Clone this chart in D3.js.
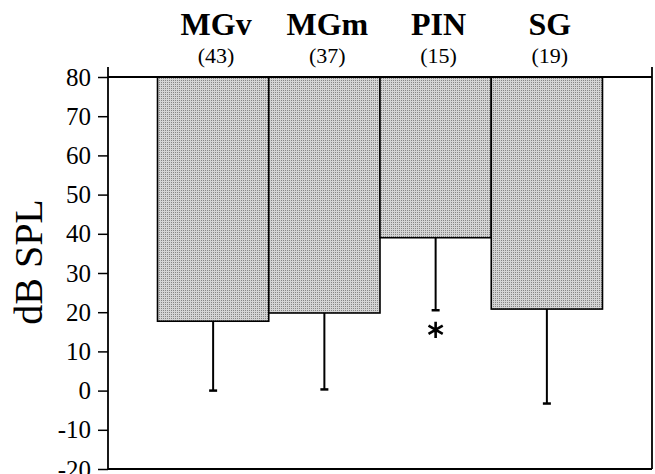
<!DOCTYPE html>
<html>
<head>
<meta charset="utf-8">
<script src="https://cdn.jsdelivr.net/npm/d3@7"></script>
<style>
  body { margin: 0; background: #fff; }
  svg text { font-family: "Liberation Serif", "Times New Roman", Times, serif !important; fill: #000; }
</style>
</head>
<body>
<script>
// Data
var regions = ['MGv', 'MGm', 'PIN', 'SG'];
var counts = ['(43)', '(37)', '(15)', '(19)'];
var thresholds = [17.7, 19.8, 39.0, 20.8];
var lowerErr = [0, 0.3, 20.5, -3.3];
var significant = [false, false, true, false];
var starValue = 15.5;
var yTicks = [-20, -10, 0, 10, 20, 30, 40, 50, 60, 70, 80];

// Graph dimensions
var W = 655, H = 474;
var margin = {top: 77, right: 3, bottom: 5, left: 108};
var width = W - margin.left - margin.right,
    height = H - margin.top - margin.bottom;

// Ranges
var x = d3.scaleBand().domain(regions).range([0, width]).paddingInner(0).paddingOuter(0.445);
var y = d3.scaleLinear().domain([-20, 80]).range([height, 0]);

var svg = d3.select('body').append('svg')
    .attr('width', W)
    .attr('height', H);

// Stipple fill
var pat = svg.append('defs').append('pattern')
    .attr('id', 'stipple')
    .attr('patternUnits', 'userSpaceOnUse')
    .attr('width', 2).attr('height', 2);
pat.append('rect').attr('width', 2).attr('height', 2).attr('fill', '#d4d4d4');
pat.append('rect').attr('x', 1).attr('y', 1).attr('width', 1).attr('height', 1).attr('fill', '#858585');

var chart = svg.append('g')
    .attr('transform', 'translate(' + margin.left + ',' + margin.top + ')');

// Bars hanging from the top
chart.selectAll('.bar')
    .data(regions)
    .enter().append('rect')
    .attr('class', 'bar')
    .attr('x', function(d) { return x(d); })
    .attr('y', y(80))
    .attr('width', x.bandwidth())
    .attr('height', function(d, i) { return y(thresholds[i]) - y(80); })
    .attr('fill', 'url(#stipple)')
    .attr('stroke', '#000')
    .attr('stroke-width', 1.6);

// Error bars
var err = chart.selectAll('.err')
    .data(regions)
    .enter().append('g')
    .attr('class', 'err')
    .attr('transform', function(d) { return 'translate(' + (x(d) + x.bandwidth() / 2) + ',0)'; });
err.append('line')
    .attr('y1', function(d, i) { return y(thresholds[i]); })
    .attr('y2', function(d, i) { return y(lowerErr[i]); })
    .attr('stroke', '#000').attr('stroke-width', 2);
err.append('line')
    .attr('x1', -4).attr('x2', 4)
    .attr('y1', function(d, i) { return y(lowerErr[i]); })
    .attr('y2', function(d, i) { return y(lowerErr[i]); })
    .attr('stroke', '#000').attr('stroke-width', 2.5);

// Significance star
chart.selectAll('.star')
    .data(regions.filter(function(d, i) { return significant[i]; }))
    .enter().append('path')
    .attr('class', 'star')
    .attr('transform', function(d) { return 'translate(' + (x(d) + x.bandwidth() / 2) + ',' + y(starValue) + ')'; })
    .attr('d', d3.symbol().type(d3.symbolAsterisk).size(190))
    .attr('fill', 'none')
    .attr('stroke', '#000')
    .attr('stroke-width', 2.6);

// Frame: top and bottom rules, side rules poke up above the top
var frame = chart.append('g').attr('stroke', '#000').attr('stroke-width', 1.8);
frame.append('line').attr('x1', 0).attr('x2', width).attr('y1', y(80)).attr('y2', y(80));
frame.append('line').attr('x1', 0).attr('x2', width).attr('y1', y(-20)).attr('y2', y(-20));
frame.append('line').attr('x1', 0).attr('x2', 0).attr('y1', y(80) - 10).attr('y2', y(-20));
frame.append('line').attr('x1', width).attr('x2', width).attr('y1', y(80) - 10).attr('y2', y(-20));

// Y axis
var yAxis = chart.append('g')
    .call(d3.axisLeft(y).tickValues(yTicks).tickSize(10).tickPadding(7).tickFormat(function(d) { return String(d); }));
yAxis.attr('font-family', null);
yAxis.select('.domain').remove();
yAxis.selectAll('.tick line').attr('stroke', '#000').attr('stroke-width', 1.5);
yAxis.selectAll('.tick text')
    .attr('font-size', 25)
    .attr('fill', '#000');

// Category labels
chart.selectAll('.cat')
    .data(regions)
    .enter().append('text')
    .attr('class', 'cat')
    .attr('x', function(d) { return x(d) + x.bandwidth() / 2 + 3; })
    .attr('y', 35 - margin.top)
    .attr('text-anchor', 'middle')
    .attr('font-size', 32)
    .attr('font-weight', 'bold')
    .text(function(d) { return d; });
chart.selectAll('.cnt')
    .data(counts)
    .enter().append('text')
    .attr('class', 'cnt')
    .attr('x', function(d, i) { return x(regions[i]) + x.bandwidth() / 2 + 3; })
    .attr('y', 63 - margin.top)
    .attr('text-anchor', 'middle')
    .attr('font-size', 22)
    .text(function(d) { return d; });

// Y axis title
svg.append('text')
    .attr('transform', 'translate(42,262) rotate(-90)')
    .attr('text-anchor', 'middle')
    .attr('font-size', 40)
    .text('dB SPL');
</script>
</body>
</html>
